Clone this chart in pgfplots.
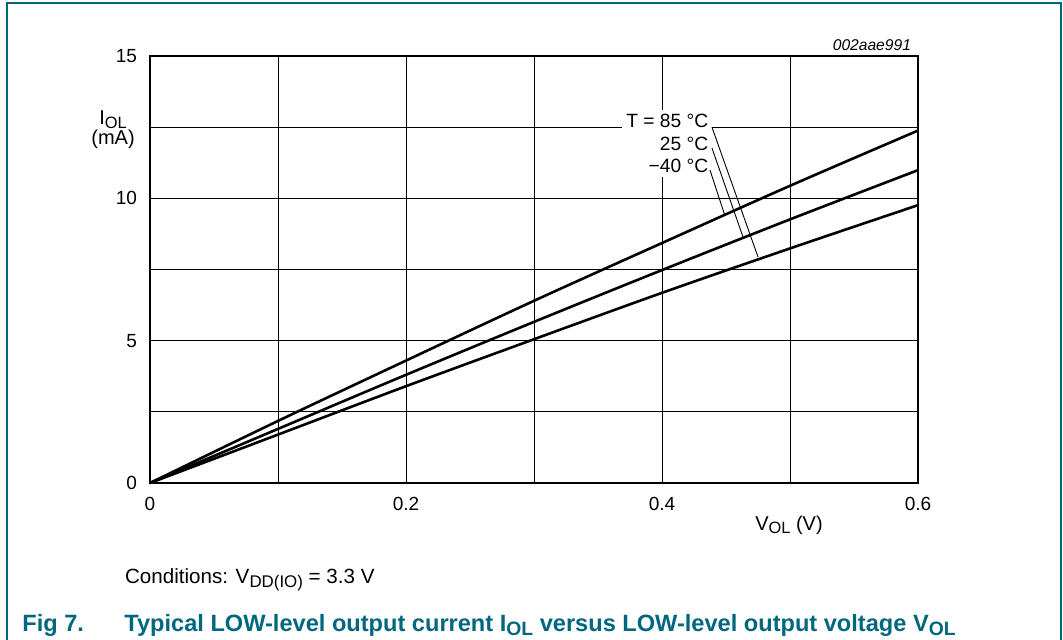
\documentclass[border=0pt]{standalone}
\usepackage{pgfplots}
\pgfplotsset{compat=1.18}
\usepackage{graphicx}
\usepackage{fontspec}
\setmainfont{Liberation Sans}
\definecolor{nxpteal}{RGB}{0,103,127}
\newcommand{\sub}[1]{\raisebox{-0.35ex}{\scalebox{0.82}{#1}}}
\begin{document}
\begin{tikzpicture}
\useasboundingbox (0,0) rectangle (531.5pt,320pt);
\draw[nxpteal, line width=0.8pt] (3.5pt,0) -- (3.5pt,318.5pt) -- (530.5pt,318.5pt) -- (530.5pt,0);
\begin{axis}[
  at={(75pt,78.5pt)}, anchor=south west,
  scale only axis, width=384pt, height=213.5pt,
  xmin=0, xmax=0.6, ymin=0, ymax=15,
  xtick={0,0.2,0.4,0.6}, minor xtick={0.1,0.3,0.5},
  ytick={0,5,10,15}, minor ytick={2.5,7.5,12.5},
  grid=both,
  major grid style={black, line width=0.5pt},
  minor grid style={black, line width=0.5pt},
  tick style={draw=none},
  axis line style={line width=0.8pt},
  /pgf/number format/assume math mode=true,
  ticklabel style={font=\fontsize{9.5}{11}\selectfont},
  xticklabel style={yshift=-3.5pt},
  yticklabel style={xshift=-3pt},
  clip=false,
]
\addplot[black, line width=1.3pt, smooth, tension=0.5] coordinates {(0,0) (0.1,2.18) (0.2,4.3) (0.3,6.4) (0.4,8.43) (0.5,10.44) (0.6,12.38)};
\addplot[black, line width=1.3pt, smooth, tension=0.5] coordinates {(0,0) (0.1,1.9) (0.2,3.8) (0.3,5.66) (0.4,7.48) (0.5,9.26) (0.6,10.99)};
\addplot[black, line width=1.3pt, smooth, tension=0.5] coordinates {(0,0) (0.1,1.7) (0.2,3.4) (0.3,5.05) (0.4,6.68) (0.5,8.24) (0.6,9.76)};
\node[anchor=east, fill=white, align=right, inner sep=2pt, font=\fontsize{9.6}{11.25}\selectfont] at (axis cs:0.4395,11.92) {T = 85 °C\\25 °C\\−40 °C};
\draw[black, line width=0.45pt] (axis cs:0.439,12.50) -- (axis cs:0.475,7.94);
\draw[black, line width=0.45pt] (axis cs:0.439,11.77) -- (axis cs:0.4633,8.64);
\draw[black, line width=0.45pt] (axis cs:0.4375,10.99) -- (axis cs:0.449,9.41);
\end{axis}
\node[anchor=east, font=\fontsize{7.8}{9}\itshape] at (459pt,297.5pt) {002aae991};
\node[align=center, font=\fontsize{10}{8.5}\selectfont] at (56.5pt,255pt) {I\sub{OL}\\(mA)};
\node[font=\fontsize{10}{11}\selectfont] at (394.5pt,57.5pt) {V\sub{OL} (V)};
\node[anchor=west, font=\fontsize{10.3}{12}\selectfont] at (59pt,30pt) {Conditions: V\sub{DD(IO)} = 3.3 V};
\node[anchor=west, font=\fontsize{11.8}{13}\bfseries, text=nxpteal, inner sep=0pt] at (11pt,7.5pt) {Fig 7.};
\node[anchor=west, font=\fontsize{11.8}{13}\bfseries, text=nxpteal, inner sep=0pt] at (62pt,7.5pt) {Typical LOW-level output current I\sub{OL} versus LOW-level output voltage V\sub{OL}};
\end{tikzpicture}
\end{document}
